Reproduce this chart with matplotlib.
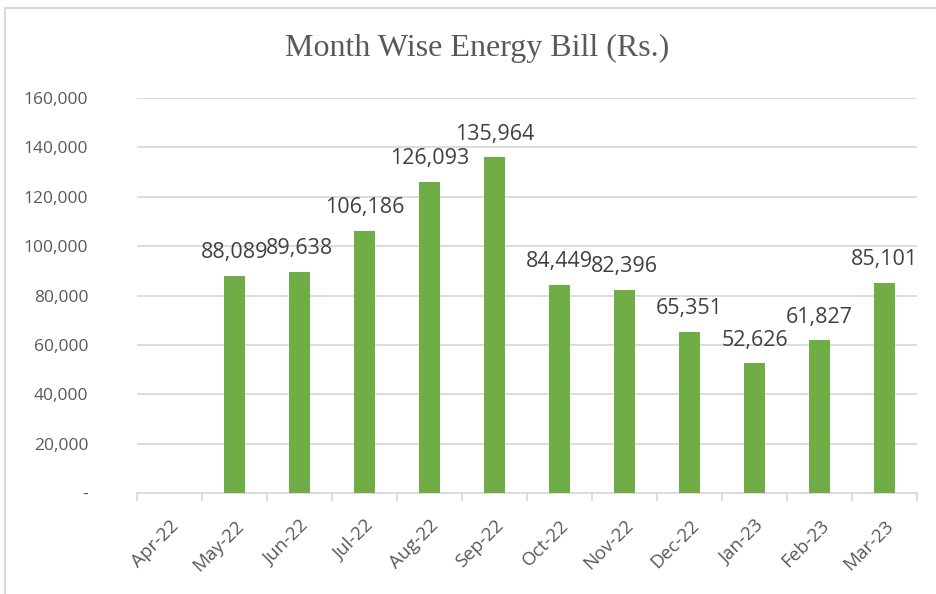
# Month wise energy bill bar chart
import numpy as np
import matplotlib
matplotlib.use("Agg")
import matplotlib.pyplot as plt
from matplotlib.patches import Rectangle

months = ["Apr-22", "May-22", "Jun-22", "Jul-22", "Aug-22", "Sep-22",
          "Oct-22", "Nov-22", "Dec-22", "Jan-23", "Feb-23", "Mar-23"]
bills = [None, 88089, 89638, 106186, 126093, 135964,
         84449, 82396, 65351, 52626, 61827, 85101]
y_ticks = [0, 20000, 40000, 60000, 80000, 100000, 120000, 140000, 160000]

GREEN = "#70AD47"
GRID = "#D9D9D9"
TEXT = "#595959"

plt.rcParams["font.family"] = ["Open Sans", "DejaVu Sans"]

fig = plt.figure(figsize=(9.36, 5.94), dpi=100)
ax = fig.add_axes([0.1464, 0.17, 0.8333, 0.665])

x = np.arange(len(months))
vals = np.array([np.nan if v is None else v for v in bills], dtype=float)
ax.bar(x, np.nan_to_num(vals), width=0.31, color=GREEN, zorder=3)

# data labels
for xi, v in zip(x, bills):
    if v is None:
        continue
    ax.annotate(f"{v:,}", (xi, v), xytext=(0, 9), textcoords="offset points",
                ha="center", va="bottom", fontsize=15.5, color="#404040")

ax.set_xlim(-0.5, len(months) - 0.5)
ax.set_ylim(0, 160000)
ax.set_yticks(y_ticks)
ax.set_yticklabels(["-" if t == 0 else f"{t:,}" for t in y_ticks])
ax.yaxis.grid(True, color=GRID, linewidth=1.3, zorder=0)
ax.tick_params(axis="y", length=0, pad=35, labelsize=12.5, labelcolor=TEXT)

ax.set_xticks(x)
ax.set_xticklabels(months, rotation=45, ha="right", rotation_mode="anchor")
ax.tick_params(axis="x", length=0, pad=17, labelsize=13.5, labelcolor=TEXT)
ax.set_xticks(np.arange(-0.5, len(months)), minor=True)
ax.tick_params(axis="x", which="minor", length=6, width=1.3, color=GRID)

for s in ["top", "right", "left"]:
    ax.spines[s].set_visible(False)
ax.spines["bottom"].set_color(GRID)
ax.spines["bottom"].set_linewidth(1.3)

fig.text(477 / 936, 0.918, "Month Wise Energy Bill (Rs.)", ha="center", va="center",
         fontsize=23, color=TEXT, family="Liberation Serif")

# outer chart border (partly cropped in the original)
fig.patches.append(Rectangle((5 / 936, -0.05), 1.1, 1.05 - 8 / 594,
                             transform=fig.transFigure, fill=False,
                             edgecolor=GRID, linewidth=1.5))

fig.savefig("out.png", dpi=100)
